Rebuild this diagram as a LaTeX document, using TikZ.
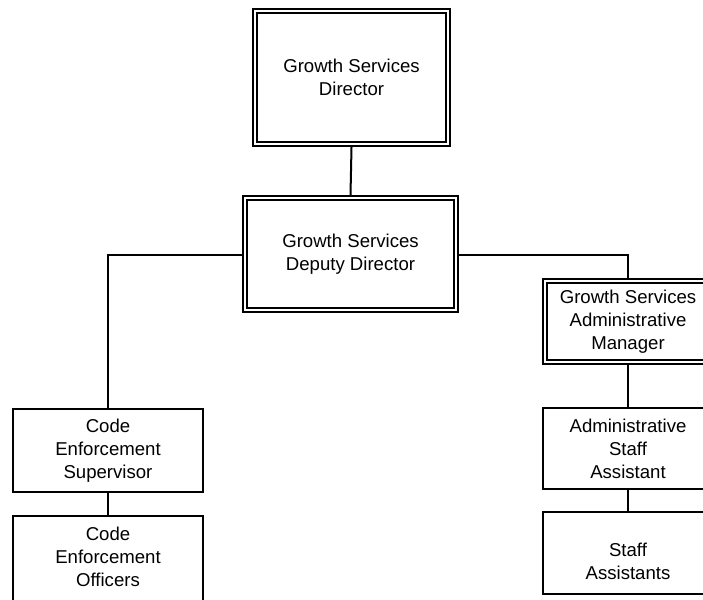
\documentclass[tikz,border=0pt]{standalone}
\usepackage{fontspec}
\setmainfont{Liberation Sans}
\begin{document}
\begin{tikzpicture}[x=1pt,y=-1pt,
  box/.style={draw, line width=2.2pt, inner sep=0pt, align=center,
    font=\fontsize{18.6}{23}\selectfont},
  txt/.style={inner sep=0pt, align=center, font=\fontsize{18.6}{23}\selectfont},
  inner/.style={line width=1.6pt},
  conn/.style={line width=2pt}
]
\useasboundingbox (0,0) rectangle (703,599);
\clip (0,0) rectangle (703,599);

% boxes
\node[box, minimum width=197pt, minimum height=137pt] (dir) at (351.5,77.5) {Growth Services\\Director};
\node[box, minimum width=215pt, minimum height=116pt] (dep) at (350.5,254) {Growth Services\\Deputy Director};
\node[box, minimum width=170pt, minimum height=85pt] (mgr) at (628,321.5) {Growth Services\\Administrative\\Manager};
\node[box, minimum width=170pt, minimum height=81pt] (asa) at (628,448.5) {Administrative\\Staff\\Assistant};
\node[box, minimum width=170pt, minimum height=82pt] (sa) at (628,553) {};
\node[txt] (satext) at (628,561.5) {Staff\\Assistants};
\node[box, minimum width=190pt, minimum height=83pt] (ces) at (108,450.5) {Code\\Enforcement\\Supervisor};
\node[box, minimum width=190pt, minimum height=90pt] (ceo) at (108,561) {};
\node[txt] (ceotext) at (108,557) {Code\\Enforcement\\Officers};

% inner lines of double borders
\foreach \n in {dir,dep,mgr}{
  \draw[inner] ([shift={(5,5)}]\n.north west) rectangle ([shift={(-5,-5)}]\n.south east);
}

% connectors
\draw[conn] (dir.south) -- (dep.north);
\draw[conn] (dep.west |- 0,255) -| (ces.north);
\draw[conn] (dep.east |- 0,255) -| (mgr.north);
\draw[conn] (mgr.south) -- (asa.north);
\draw[conn] (asa.south) -- (sa.north);
\draw[conn] (ces.south) -- (ceo.north);
\end{tikzpicture}
\end{document}
